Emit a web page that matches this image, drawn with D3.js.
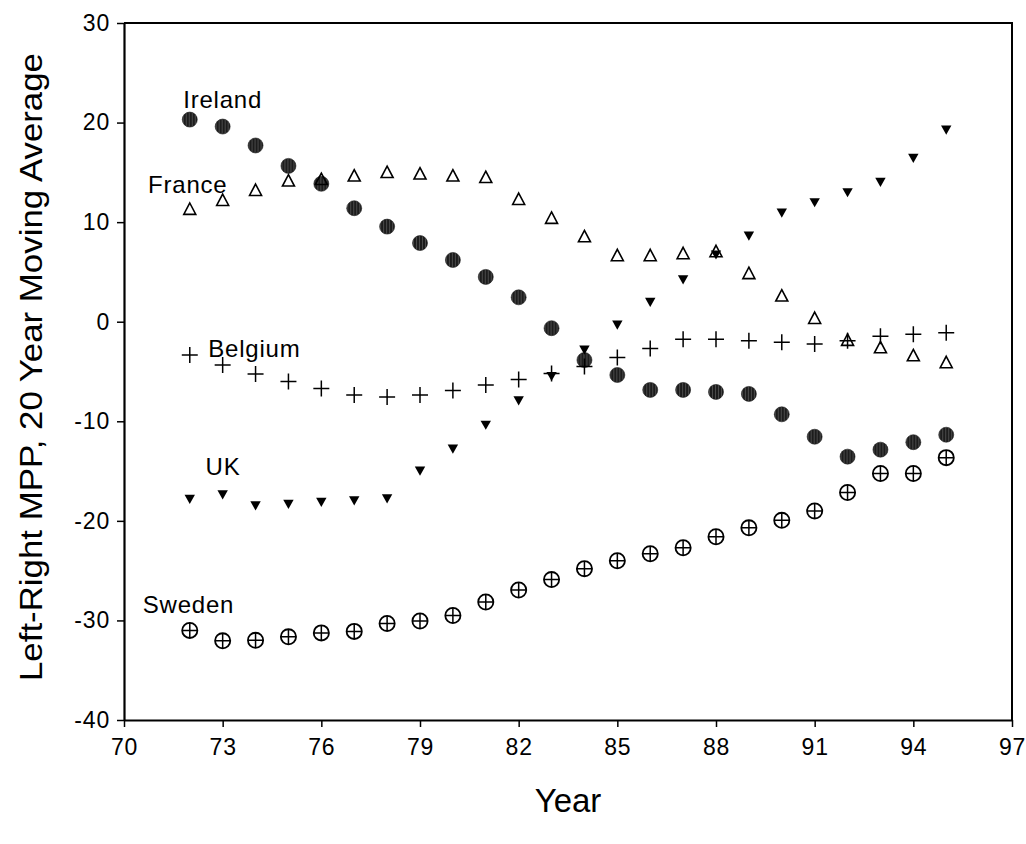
<!DOCTYPE html>
<html>
<head>
<meta charset="utf-8">
<script src="https://cdn.jsdelivr.net/npm/d3@7"></script>
<style>
  body { margin: 0; background: #fff; }
  svg { display: block; font-family: "Liberation Sans", Arial, sans-serif; }
  .axis path, .axis line { stroke: #000; }
  .label { font-size: 24px; letter-spacing: 0.8px; fill: #000; }
</style>
</head>
<body>
<svg id="chart"></svg>
<script>
// year (19xx)
const years = [72, 73, 74, 75, 76, 77, 78, 79, 80, 81, 82, 83,
               84, 85, 86, 87, 88, 89, 90, 91, 92, 93, 94, 95];

const ireland = [20.3, 19.6, 17.7, 15.65, 13.85, 11.4, 9.55, 7.9, 6.2, 4.5, 2.45, -0.65,
                 -3.85, -5.35, -6.85, -6.85, -7.05, -7.25, -9.3, -11.55, -13.55, -12.85, -12.1, -11.35];
const france = [11.3, 12.2, 13.2, 14.15, 14.3, 14.65, 15.0, 14.85, 14.65, 14.5, 12.3, 10.4,
                8.55, 6.65, 6.65, 6.85, 7.05, 4.85, 2.6, 0.35, -1.85, -2.6, -3.4, -4.1];
const belgium = [-3.35, -4.35, -5.25, -6.0, -6.7, -7.35, -7.55, -7.35, -6.9, -6.35, -5.8, -5.2,
                 -4.5, -3.6, -2.7, -1.75, -1.75, -1.9, -2.05, -2.25, -1.9, -1.45, -1.25, -1.1];
const uk = [-17.85, -17.4, -18.5, -18.35, -18.15, -18.0, -17.8, -15.0, -12.8, -10.4, -7.95, -5.5,
            -2.85, -0.35, 1.95, 4.2, 6.7, 8.6, 10.9, 11.95, 12.95, 14.0, 16.4, 19.25];
const sweden = [-31.0, -32.05, -32.0, -31.65, -31.25, -31.1, -30.3, -30.05, -29.5, -28.15, -26.95, -25.9,
                -24.8, -24.0, -23.3, -22.7, -21.6, -20.7, -19.95, -19.0, -17.15, -15.25, -15.25, -13.65];

const xTicks = [70, 73, 76, 79, 82, 85, 88, 91, 94, 97];
const yTicks = [-40, -30, -20, -10, 0, 10, 20, 30];

// country name annotations, anchored in data units (year, value)
const labelNames = ["Ireland", "France", "Belgium", "UK", "Sweden"];
const labelYears = [71.8, 70.73, 72.56, 72.48, 70.57];
const labelValues = [21.45, 12.9, -3.55, -15.4, -29.25];

const config = {
  width: 1026,
  height: 844,
  margin: { top: 23, right: 14, bottom: 124, left: 124 },
};

const svg = d3.select("#chart")
  .attr("width", config.width)
  .attr("height", config.height);

const innerW = config.width - config.margin.left - config.margin.right;
const innerH = config.height - config.margin.top - config.margin.bottom;

// textured fill for the dark circles
const defs = svg.append("defs");
const pat = defs.append("pattern")
  .attr("id", "dark")
  .attr("width", 3)
  .attr("height", 3)
  .attr("patternUnits", "userSpaceOnUse");
pat.append("rect").attr("width", 3).attr("height", 3).attr("fill", "#1c1c1c");
pat.append("rect").attr("x", 2).attr("width", 1).attr("height", 3).attr("fill", "#4a4a4a");

const chart = svg.append("g")
  .attr("transform", `translate(${config.margin.left},${config.margin.top})`);

const xScale = d3.scaleLinear().domain([70, 97]).range([0, innerW]);
const yScale = d3.scaleLinear().domain([-40, 30]).range([innerH, 0]);

// frame (top and right)
chart.append("path")
  .attr("d", `M0,0H${innerW}V${innerH}`)
  .attr("fill", "none")
  .attr("stroke", "#000")
  .attr("stroke-width", 2);

const plain = (d) => String(d); // hyphen-minus like the original

const xAxis = d3.axisBottom(xScale)
  .tickValues(xTicks)
  .tickFormat(plain)
  .tickSize(7)
  .tickSizeOuter(0)
  .tickPadding(12);
const yAxis = d3.axisLeft(yScale)
  .tickValues(yTicks)
  .tickFormat(plain)
  .tickSize(7)
  .tickSizeOuter(0)
  .tickPadding(7);

const xg = chart.append("g")
  .attr("class", "axis")
  .attr("transform", `translate(0,${innerH})`)
  .call(xAxis);
const yg = chart.append("g")
  .attr("class", "axis")
  .call(yAxis);

[xg, yg].forEach((g) => {
  g.attr("font-size", 23).attr("font-family", "Liberation Sans, Arial, sans-serif");
  g.select(".domain").attr("stroke-width", 2.2);
  g.selectAll(".tick line").attr("stroke-width", 1.5);
  g.selectAll(".tick text")
    .attr("font-size", 23)
    .attr("fill", "#000")
    .style("letter-spacing", "0.8px");
});

// axis titles
svg.append("text")
  .attr("x", config.margin.left + innerW / 2)
  .attr("y", 812)
  .attr("text-anchor", "middle")
  .attr("font-size", 33)
  .text("Year");

svg.append("text")
  .attr("transform", "translate(42,367) rotate(-90)")
  .attr("text-anchor", "middle")
  .attr("font-size", 31)
  .attr("textLength", 628)
  .attr("lengthAdjust", "spacingAndGlyphs")
  .text("Left-Right MPP, 20 Year Moving Average");

const pts = (vals) => years.map((yr, i) => ({ year: yr, value: vals[i] }));
const place = (d) => `translate(${xScale(d.year)},${yScale(d.value)})`;

// Ireland: dark filled circles
chart.selectAll(".ireland")
  .data(pts(ireland))
  .join("circle")
  .attr("class", "ireland")
  .attr("transform", place)
  .attr("r", 7.5)
  .attr("fill", "url(#dark)")
  .attr("stroke", "#1c1c1c")
  .attr("stroke-width", 0.6);

// Sweden: circle with cross
const sw = chart.selectAll(".sweden")
  .data(pts(sweden))
  .join("g")
  .attr("class", "sweden")
  .attr("transform", place);
sw.append("circle")
  .attr("r", 7.6)
  .attr("fill", "#fff")
  .attr("stroke", "#000")
  .attr("stroke-width", 1.8);
sw.append("path")
  .attr("d", "M-7.6,0H7.6M0,-7.6V7.6")
  .attr("stroke", "#000")
  .attr("stroke-width", 1.5);

// Belgium: plus signs
chart.selectAll(".belgium")
  .data(pts(belgium))
  .join("path")
  .attr("class", "belgium")
  .attr("transform", place)
  .attr("d", "M-8,0H8M0,-8V8")
  .attr("stroke", "#000")
  .attr("stroke-width", 1.5);

// France: open triangles
chart.selectAll(".france")
  .data(pts(france))
  .join("path")
  .attr("class", "france")
  .attr("transform", place)
  .attr("d", "M0,-6.2L6,5.2H-6Z")
  .attr("fill", "none")
  .attr("stroke", "#000")
  .attr("stroke-width", 1.6);

// UK: filled down triangles
chart.selectAll(".uk")
  .data(pts(uk))
  .join("path")
  .attr("class", "uk")
  .attr("transform", place)
  .attr("d", "M-5.2,-4.6H5.2L0,4.6Z")
  .attr("fill", "#000");

// country labels
chart.selectAll(".label")
  .data(labelNames.map((n, i) => ({ name: n, year: labelYears[i], value: labelValues[i] })))
  .join("text")
  .attr("class", "label")
  .attr("x", (d) => xScale(d.year))
  .attr("y", (d) => yScale(d.value))
  .text((d) => d.name);
</script>
</body>
</html>
